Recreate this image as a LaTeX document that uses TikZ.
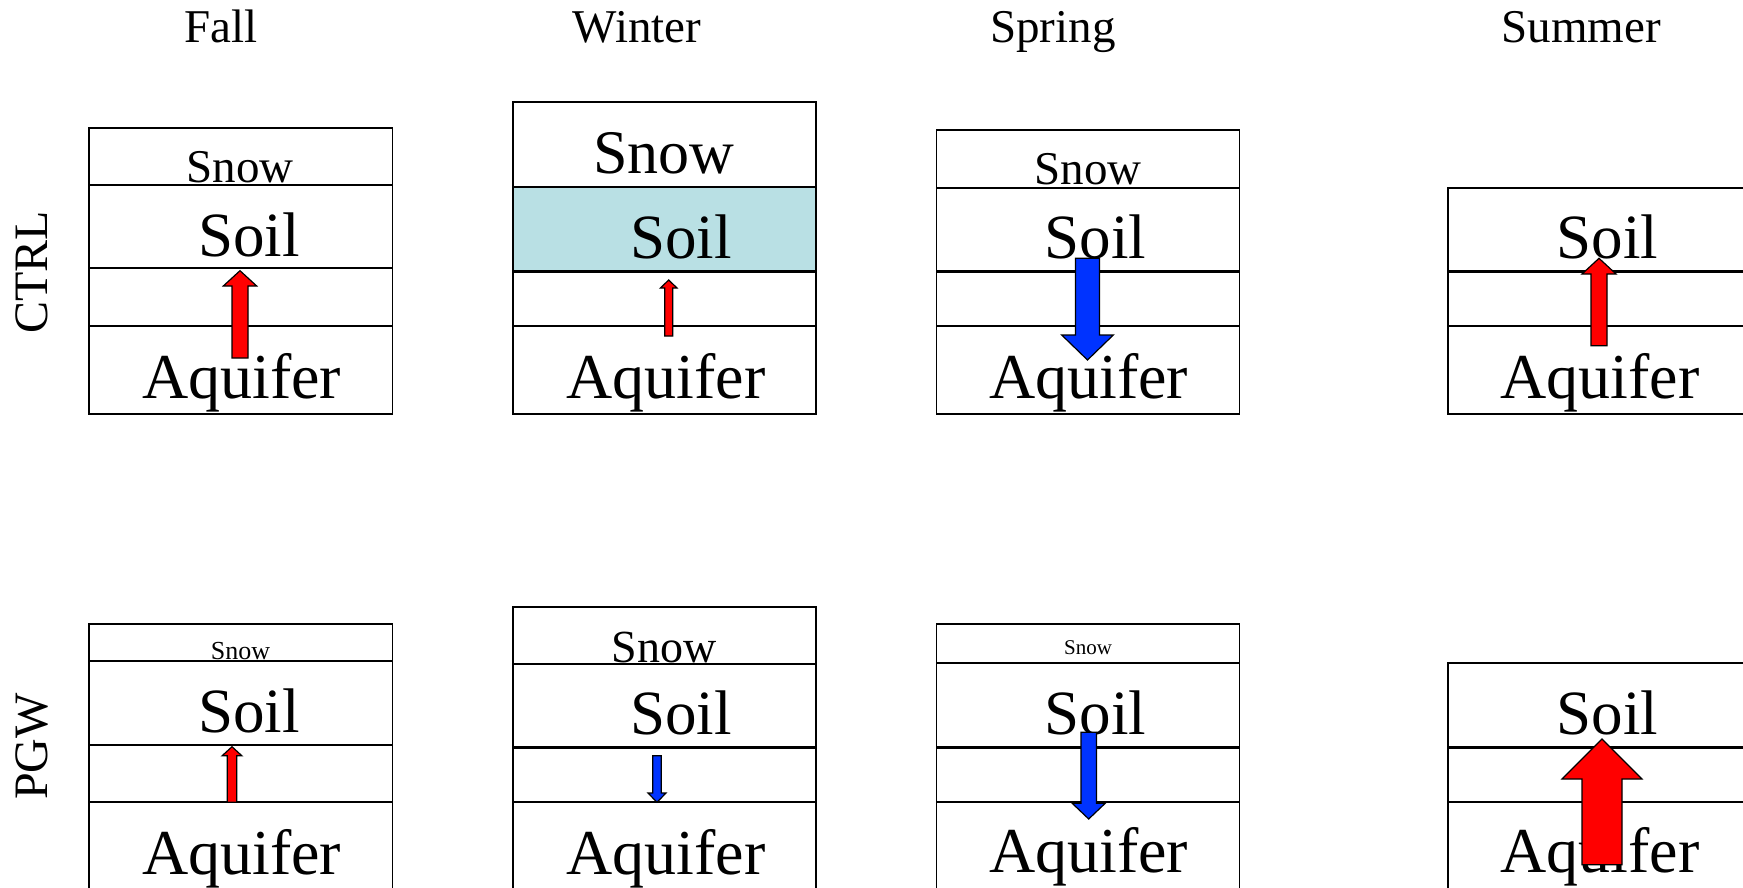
\documentclass[tikz,border=0pt]{standalone}
\usepackage{fontspec}
\setmainfont{Liberation Serif}
\definecolor{arred}{RGB}{255,0,0}
\definecolor{arblue}{RGB}{0,51,255}
\definecolor{soilfill}{RGB}{185,224,228}
\newcommand\fsz[1]{\fontsize{#1}{#1}\selectfont}
% block arrow: cx, tail y, head-base y, tip y, shaft half width, head half width, colour
\newcommand\blockarr[7]{%
  \filldraw[fill=#7,draw=black,line width=1.2pt,line join=miter]
    ({#1-#5},#2) -- ({#1-#5},#3) -- ({#1-#6},#3) -- (#1,#4) --
    ({#1+#6},#3) -- ({#1+#5},#3) -- ({#1+#5},#2) -- cycle;}
\tikzset{
  lbl/.style={anchor=base,inner sep=0pt},
  boxline/.style={line width=1.7pt},
  thickline/.style={line width=2.8pt},
}
\begin{document}
\begin{tikzpicture}[x=1pt,y=-1pt]
\clip (0,0) rectangle (1743,888);
\fill[white] (0,0) rectangle (1743,888);
% titles
\node[lbl,font=\fsz{47}] (tfall)   at (221,42.7)  {Fall};
\node[lbl,font=\fsz{47}] (twinter) at (637,42.7)  {Winter};
\node[lbl,font=\fsz{47}] (tspring) at (1053,42.7) {Spring};
\node[lbl,font=\fsz{47}] (tsummer) at (1581,42.7) {Summer};
\node[lbl,font=\fsz{48},rotate=90] (tctrl) at (47,272.5) {CTRL};
\node[lbl,font=\fsz{48},rotate=90] (tpgw)  at (47,746.5) {PGW};
% ---------------- CTRL row ----------------
\fill[soilfill] (513,187) rectangle (816,271.7);
% Fall
\draw[boxline] (89,127.7) rectangle (392.4,414.3);
\draw[boxline] (89,185) -- (392.4,185);
\draw[thickline] (89,268) -- (392.4,268);
\draw[boxline] (89,326) -- (392.4,326);
% Winter
\draw[boxline] (513,101.7) rectangle (816,414.3);
\draw[thickline] (513,187) -- (816,187);
\draw[thickline] (513,271.7) -- (816,271.7);
\draw[boxline] (513,326) -- (816,326);
% Spring
\draw[boxline] (936.6,130) rectangle (1239.6,414.3);
\draw[boxline] (936.6,187.7) -- (1239.6,187.7);
\draw[thickline] (936.6,271.7) -- (1239.6,271.7);
\draw[boxline] (936.6,326) -- (1239.6,326);
% Summer
\draw[boxline] (1448,187.7) rectangle (1760,414.3);
\draw[thickline] (1448,271.7) -- (1760,271.7);
\draw[boxline] (1448,326) -- (1760,326);
% labels CTRL
\node[lbl,font=\fsz{47}] (c1snow) at (240,182.7) {Snow};
\node[lbl,font=\fsz{63}] (c1soil) at (249,256.7) {Soil};
\node[lbl,font=\fsz{64}] (c1aq)   at (241.7,398) {Aquifer};
\node[lbl,font=\fsz{62}] (c2snow) at (664,173.3) {Snow};
\node[lbl,font=\fsz{63}] (c2soil) at (681,258.3) {Soil};
\node[lbl,font=\fsz{64}] (c2aq)   at (665.8,398.3) {Aquifer};
\node[lbl,font=\fsz{47}] (c3snow) at (1088,185) {Snow};
\node[lbl,font=\fsz{63}] (c3soil) at (1095.6,258.3) {Soil};
\node[lbl,font=\fsz{64}] (c3aq)   at (1088.6,398) {Aquifer};
\node[lbl,font=\fsz{63}] (c4soil) at (1607.6,258.3) {Soil};
\node[lbl,font=\fsz{64}] (c4aq)   at (1600,398) {Aquifer};
% ---------------- PGW row ----------------
% Fall
\draw[boxline] (89,624) rectangle (392.4,900);
\draw[boxline] (89,661.3) -- (392.4,661.3);
\draw[thickline] (89,745) -- (392.4,745);
\draw[boxline] (89,802.3) -- (392.4,802.3);
% Winter
\draw[boxline] (513,607) rectangle (816,900);
\draw[boxline] (513,664) -- (816,664);
\draw[thickline] (513,747.3) -- (816,747.3);
\draw[boxline] (513,802.3) -- (816,802.3);
% Spring
\draw[boxline] (936.6,624) rectangle (1239.6,900);
\draw[boxline] (936.6,663) -- (1239.6,663);
\draw[thickline] (936.6,747.3) -- (1239.6,747.3);
\draw[boxline] (936.6,802.3) -- (1239.6,802.3);
% Summer
\draw[boxline] (1448,663) rectangle (1760,900);
\draw[thickline] (1448,747.3) -- (1760,747.3);
\draw[boxline] (1448,802.3) -- (1760,802.3);
% labels PGW
\node[lbl,font=\fsz{26}] (p1snow) at (240.6,659) {Snow};
\node[lbl,font=\fsz{63}] (p1soil) at (249,732.3) {Soil};
\node[lbl,font=\fsz{64}] (p1aq)   at (241.7,874) {Aquifer};
\node[lbl,font=\fsz{46}] (p2snow) at (664,662.3) {Snow};
\node[lbl,font=\fsz{63}] (p2soil) at (681,734) {Soil};
\node[lbl,font=\fsz{64}] (p2aq)   at (666,874) {Aquifer};
\node[lbl,font=\fsz{21}] (p3snow) at (1088,654) {Snow};
\node[lbl,font=\fsz{63}] (p3soil) at (1095.6,734) {Soil};
\node[lbl,font=\fsz{64}] (p3aq)   at (1088.6,872.3) {Aquifer};
\node[lbl,font=\fsz{63}] (p4soil) at (1607.6,734) {Soil};
\node[lbl,font=\fsz{64}] (p4aq)   at (1600,872) {Aquifer};
% ---------------- arrows ----------------
\blockarr{240}{358}{286}{270.7}{8}{16.7}{arred}
\blockarr{668.7}{336}{288}{280}{4}{8.3}{arred}
\blockarr{1087.5}{258.3}{335}{360}{12}{25.8}{arblue}
\blockarr{1599}{345.7}{274}{258.3}{8}{17}{arred}
\blockarr{232}{802.3}{755.7}{746.7}{4.7}{9.8}{arred}
\blockarr{657}{755.7}{793}{802.3}{4.2}{9}{arblue}
\blockarr{1088.7}{732.3}{803.3}{819}{7.7}{16.5}{arblue}
\blockarr{1602}{864.7}{779}{739}{20}{40}{arred}
\end{tikzpicture}
\end{document}
